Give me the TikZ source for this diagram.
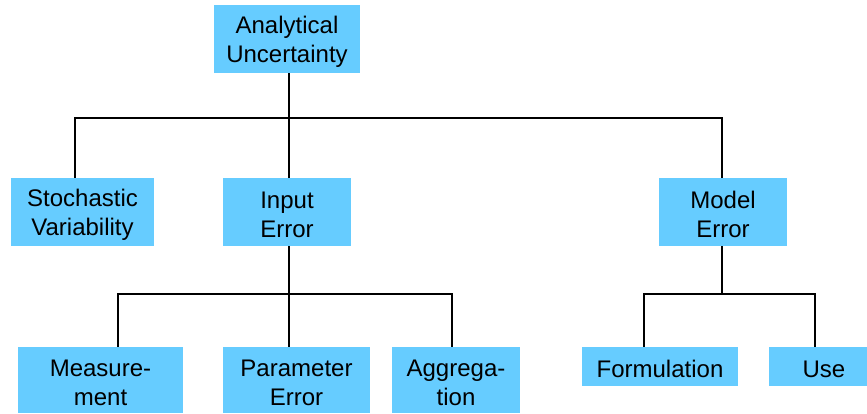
\documentclass[tikz,border=0pt]{standalone}
\usepackage{fontspec}
\setmainfont{Liberation Sans}
\definecolor{boxblue}{RGB}{102,204,255}
\newcommand\boxtop{\rule{0pt}{23pt}}
\newcommand\boxbot{\rule[-1pt]{0pt}{1pt}}
\begin{document}
\begin{tikzpicture}[x=1pt,y=-1pt,
  box/.style={fill=boxblue, inner sep=0pt, align=center, font=\fontsize{24}{29}\selectfont},
  conn/.style={line width=2.8pt, line join=miter}]
\useasboundingbox (0,0) rectangle (867,414);
\clip (0,0) rectangle (867,414);
% nodes
\node[box, minimum width=146pt, minimum height=68pt] (top) at (287,39) {\boxtop Analytical\\Uncertainty\boxbot};
\node[box, minimum width=143pt, minimum height=68pt] (stoch) at (82.5,212) {\boxtop Stochastic\\Variability\boxbot};
\node[box, minimum width=128pt, minimum height=68pt] (input) at (287,212) {\boxtop Input\\Error\boxbot};
\node[box, minimum width=128pt, minimum height=68pt] (model) at (723,212) {\boxtop Model\\Error\boxbot};
\node[box, minimum width=165pt, minimum height=66pt] (meas) at (100.5,380) {\boxtop Measure-\\ment\boxbot};
\node[box, minimum width=147pt, minimum height=66pt] (param) at (296.5,380) {\boxtop Parameter\\Error\boxbot};
\node[box, minimum width=128pt, minimum height=66pt] (aggr) at (456,380) {\boxtop Aggrega-\\tion\boxbot};
\node[box, minimum width=156pt, minimum height=39pt] (form) at (660,366.5) {\boxtop Formulation\boxbot};
\node[box, minimum width=110pt, minimum height=39pt] (use) at (824,366.5) {\boxtop Use\boxbot};
% bus coordinates
\coordinate (bA) at (289,118);
\coordinate (bL) at (75,118);
\coordinate (bR) at (722,118);
\coordinate (cA) at (289,294);
\coordinate (cL) at (118,294);
\coordinate (cR) at (452,294);
\coordinate (dA) at (722,294);
\coordinate (dL) at (644,294);
\coordinate (dR) at (815,294);
% connectors
\draw[conn] (top.south -| bA) -- (bA);
\draw[conn] (stoch.north -| bL) -- (bL) -- (bR) -- (model.north -| bR);
\draw[conn] (bA) -- (input.north -| bA);
\draw[conn] (input.south -| cA) -- (param.north -| cA);
\draw[conn] (meas.north -| cL) -- (cL) -- (cR) -- (aggr.north -| cR);
\draw[conn] (model.south -| dA) -- (dA);
\draw[conn] (form.north -| dL) -- (dL) -- (dR) -- (use.north -| dR);
\end{tikzpicture}
\end{document}
